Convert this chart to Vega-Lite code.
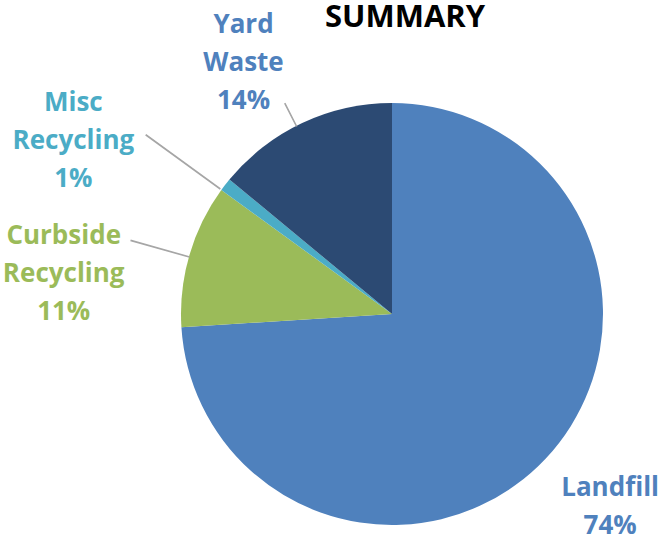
{
  "$schema": "https://vega.github.io/schema/vega-lite/v6.json",
  "width": 532,
  "height": 454,
  "autosize": {"type": "none"},
  "padding": {"left": 126, "top": 87, "right": 0, "bottom": 0},
  "background": "white",
  "title": {
    "text": "SUMMARY",
    "font": "Open Sans",
    "fontSize": 31,
    "fontWeight": "bold",
    "color": "#000000",
    "anchor": "middle",
    "frame": "group",
    "offset": -23,
    "dx": 13
  },
  "data": {
    "values": [
      {"category": "Landfill", "value": 74, "idx": 1, "label": "Landfill\n74%"},
      {"category": "Curbside Recycling", "value": 11, "idx": 2, "label": "Curbside\nRecycling\n11%"},
      {"category": "Misc Recycling", "value": 1, "idx": 3, "label": "Misc\nRecycling\n1%"},
      {"category": "Yard Waste", "value": 14, "idx": 4, "label": "Yard\nWaste\n14%"}
    ]
  },
  "layer": [
    {
      "mark": {"type": "arc", "radius": 211},
      "encoding": {
        "theta": {"field": "value", "type": "quantitative", "stack": true},
        "order": {"field": "idx", "type": "quantitative"},
        "color": {
          "field": "category",
          "type": "nominal",
          "scale": {
            "domain": ["Landfill", "Curbside Recycling", "Misc Recycling", "Yard Waste"],
            "range": ["#4F81BD", "#9BBB59", "#4BACC6", "#2C4A73"]
          },
          "legend": null
        }
      }
    },
    {
      "data": {"values": [{}]},
      "mark": {"type": "arc", "theta": 5.812, "theta2": 5.8135, "radius": 236, "radius2": 211, "fill": "#A6A6A6", "stroke": "#A6A6A6", "strokeWidth": 1.3},
      "encoding": {}
    },
    {
      "data": {"values": [{}]},
      "mark": {"type": "arc", "theta": 5.341, "theta2": 5.3425, "radius": 304, "radius2": 213, "fill": "#A6A6A6", "stroke": "#A6A6A6", "strokeWidth": 1.3},
      "encoding": {}
    },
    {
      "data": {"values": [{}]},
      "mark": {"type": "arc", "theta": 4.986, "theta2": 4.9875, "radius": 271, "radius2": 211, "fill": "#A6A6A6", "stroke": "#A6A6A6", "strokeWidth": 1.3},
      "encoding": {}
    },
    {
      "mark": {"type": "text", "radius": 280, "dx": 14, "dy": -10, "font": "Open Sans", "fontWeight": "bold", "align": "center", "baseline": "alphabetic", "lineBreak": "\n", "lineHeight": 38, "color": "#4F81BD"},
      "encoding": {
        "theta": {"field": "value", "type": "quantitative", "stack": true},
        "order": {"field": "idx", "type": "quantitative"},
        "text": {"condition": {"test": "datum.category === 'Landfill'", "field": "label"}, "value": ""},
        "size": {"condition": {"test": "datum.category === 'Landfill'", "value": 26}, "value": 0}
      }
    },
    {
      "mark": {"type": "text", "radius": 320, "dx": -21, "dy": 19, "font": "Open Sans", "fontWeight": "bold", "align": "center", "baseline": "alphabetic", "lineBreak": "\n", "lineHeight": 38, "color": "#9BBB59"},
      "encoding": {
        "theta": {"field": "value", "type": "quantitative", "stack": true},
        "order": {"field": "idx", "type": "quantitative"},
        "text": {"condition": {"test": "datum.category === 'Curbside Recycling'", "field": "label"}, "value": ""},
        "size": {"condition": {"test": "datum.category === 'Curbside Recycling'", "value": 26}, "value": 0}
      }
    },
    {
      "mark": {"type": "text", "radius": 340, "dx": -50, "dy": 5, "font": "Open Sans", "fontWeight": "bold", "align": "center", "baseline": "alphabetic", "lineBreak": "\n", "lineHeight": 38, "color": "#4BACC6"},
      "encoding": {
        "theta": {"field": "value", "type": "quantitative", "stack": true},
        "order": {"field": "idx", "type": "quantitative"},
        "text": {"condition": {"test": "datum.category === 'Misc Recycling'", "field": "label"}, "value": ""},
        "size": {"condition": {"test": "datum.category === 'Misc Recycling'", "value": 26}, "value": 0}
      }
    },
    {
      "mark": {"type": "text", "radius": 290, "dx": -25, "dy": -19, "font": "Open Sans", "fontWeight": "bold", "align": "center", "baseline": "alphabetic", "lineBreak": "\n", "lineHeight": 38, "color": "#4F81BD"},
      "encoding": {
        "theta": {"field": "value", "type": "quantitative", "stack": true},
        "order": {"field": "idx", "type": "quantitative"},
        "text": {"condition": {"test": "datum.category === 'Yard Waste'", "field": "label"}, "value": ""},
        "size": {"condition": {"test": "datum.category === 'Yard Waste'", "value": 26}, "value": 0}
      }
    }
  ]
}
